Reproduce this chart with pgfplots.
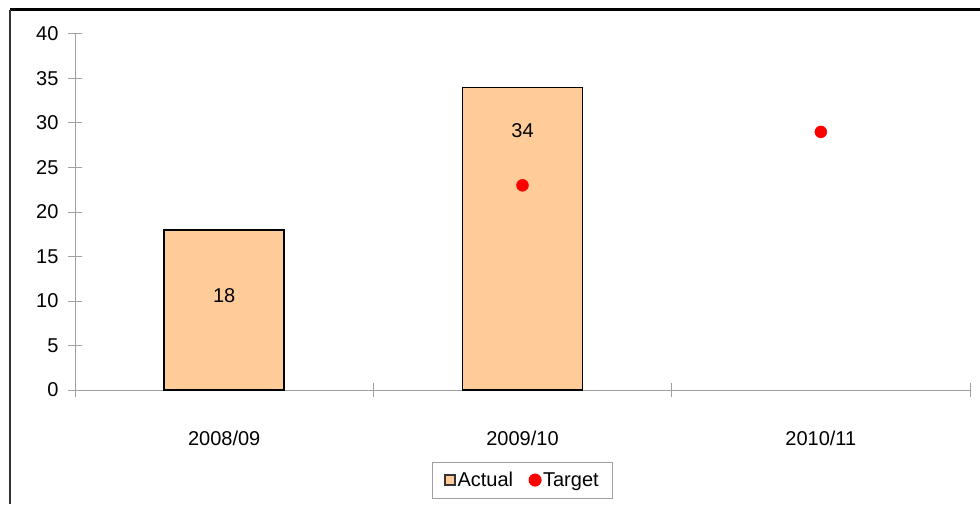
\documentclass[border=0pt]{standalone}
\usepackage{pgfplots}
\pgfplotsset{compat=1.18}
\usepackage{fontspec}
\setmainfont{Liberation Sans}
\definecolor{peach}{HTML}{FFCC99}
\definecolor{axgray}{HTML}{A0A0A0}
\begin{document}
\begin{tikzpicture}[x=1pt,y=1pt]
\useasboundingbox (0,0) rectangle (980,504);
\draw[line width=3pt,black] (10,494) -- (980,494);
\draw[line width=1.5pt,black!80] (10,494) -- (10,0);
\begin{axis}[
  scale only axis,
  width=895pt, height=356pt,
  at={(75pt,114pt)}, anchor=south west,
  xmin=-0.5, xmax=2.5, ymin=0, ymax=40,
  axis x line=bottom, axis y line=left,
  axis line style={-, axgray, line width=1pt},
  xtick={0,1,2},
  xticklabels={2008/09,2009/10,2010/11},
  minor xtick={-0.5,0.5,1.5,2.5},
  ytick={0,5,...,40},
  tick style={axgray, line width=1pt},
  x tick style={draw=none},
  minor x tick style={draw=axgray, line width=1pt},
  minor tick length=14pt,
  major tick length=14pt,
  tick align=center,
  /pgf/number format/assume math mode=true,
  tick label style={font=\fontsize{20}{23}\selectfont, black},
  yticklabel style={xshift=-6pt},
  xticklabel style={yshift=-30pt},
  legend style={at={(0.5,-0.253)}, anchor=center, legend columns=2,
    draw=axgray, line width=1pt, font=\fontsize{20}{23}\selectfont,
    /tikz/every even column/.append style={column sep=14pt},
    inner xsep=12pt, inner ysep=8pt},
  legend cell align=left,
]
\addplot[ybar, bar width=120pt, fill=peach, draw=black, line width=1.5pt,
  legend image code/.code={\draw[fill=peach, draw=black!80, line width=1.2pt] (0pt,-5pt) rectangle (10pt,5pt);}]
  coordinates {(0,18) (1,34)};
\addlegendentry{Actual}
\addplot[only marks, mark=*, mark size=6pt, color=red]
  coordinates {(1,23) (2,29)};
\addlegendentry{Target}
\node[font=\fontsize{20}{23}\selectfont] at (axis cs:0,10.6) {18};
\node[font=\fontsize{20}{23}\selectfont] at (axis cs:1,29.2) {34};
\end{axis}
\end{tikzpicture}
\end{document}
